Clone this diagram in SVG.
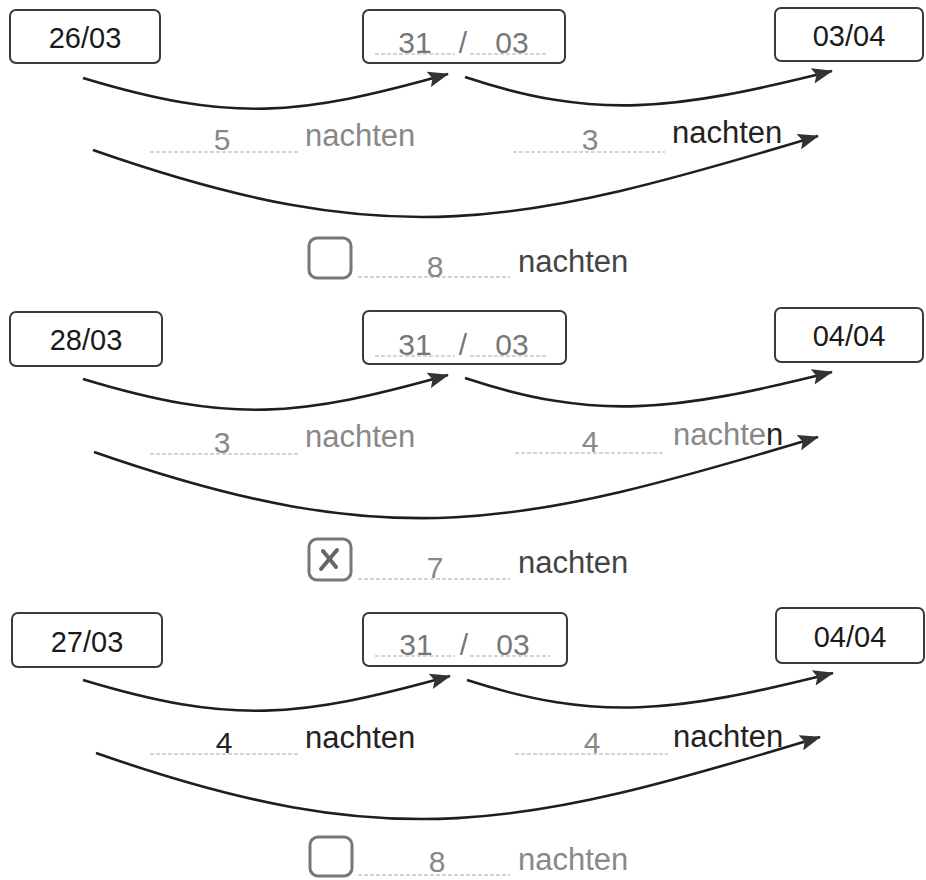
<svg xmlns="http://www.w3.org/2000/svg" width="926" height="880" viewBox="0 0 926 880">
<style>
text{font-family:"Liberation Sans",Arial,sans-serif;}
.box{fill:#fff;stroke:#3a3a3a;stroke-width:2;}
.date{font-size:29px;fill:#1a1a1a;text-anchor:middle;}
.hw{font-size:30px;fill:#777;text-anchor:middle;}
.num{font-size:30px;fill:#888;text-anchor:middle;}
.numd{font-size:30px;fill:#222;text-anchor:middle;}
.w{font-size:31px;fill:#888;}
.wd{font-size:31px;fill:#222;}
.wm{font-size:31px;fill:#444;}
.dot{stroke:#aaa;stroke-width:1.2;stroke-dasharray:4 2;fill:none;}
.arr{fill:none;stroke:#1e1e1e;stroke-width:2.6;marker-end:url(#ah);}
.cb{fill:none;stroke:#777;stroke-width:3;}
</style>
<defs>
<marker id="ah" markerUnits="userSpaceOnUse" markerWidth="22" markerHeight="16" refX="20" refY="8" orient="auto">
<path d="M0,0 L21,8 L0,16 L4,8 Z" fill="#333"/>
</marker>
</defs>

<g id="connectors">
<g id="row1-arrows">
<path class="arr" d="M83,78 C232,123 298,116 448,74"/>
<path class="arr" d="M465,77 C595,120 672,111 832,71"/>
<path class="arr" d="M93,150 C393,255 518,226 818,136"/>
</g>
<g id="row2-arrows" transform="translate(0,301)">
<path class="arr" d="M83,78 C232,123 298,116 448,74"/>
<path class="arr" d="M465,77 C595,120 672,111 832,71"/>
<path class="arr" d="M94,151 C393,255 518,226 818,136"/>
</g>
<g id="row3-arrows" transform="translate(0,602)">
<path class="arr" d="M83,78 C232,123 298,116 450,74"/>
<path class="arr" d="M467,78 C597,120 674,111 833,71"/>
<path class="arr" d="M96,151 C393,255 520,226 820,135"/>
</g>
</g>

<!-- Row 1 -->
<g id="r1-start">
<rect class="box" x="10" y="10" width="150" height="53" rx="6"/>
<text class="date" x="85" y="48">26/03</text>
</g>
<g id="r1-mid">
<rect class="box" x="363" y="10" width="202" height="53" rx="6"/>
<line class="dot" x1="375" y1="54" x2="455" y2="54"/>
<line class="dot" x1="470" y1="54" x2="548" y2="54"/>
<text class="hw" x="415" y="53">31</text>
<text class="hw" x="463" y="53">/</text>
<text class="hw" x="512" y="53">03</text>
</g>
<g id="r1-end">
<rect class="box" x="775" y="8" width="148" height="53" rx="6"/>
<text class="date" x="849" y="46">03/04</text>
</g>
<g id="r1-label1">
<line class="dot" x1="150" y1="152" x2="300" y2="152"/>
<text class="num" x="222" y="150">5</text>
<text class="w" x="305" y="146">nachten</text>
</g>
<g id="r1-label2">
<line class="dot" x1="513" y1="152" x2="665" y2="152"/>
<text class="num" x="590" y="150">3</text>
<text class="wd" x="672" y="143">nachten</text>
</g>
<g id="r1-total">
<rect class="cb" x="309" y="238" width="42" height="40" rx="8"/>
<line class="dot" x1="358" y1="277" x2="510" y2="277"/>
<text class="num" x="435" y="277">8</text>
<text class="wm" x="518" y="272">nachten</text>
</g>

<!-- Row 2 -->
<g id="r2-start">
<rect class="box" x="10" y="312" width="152" height="54" rx="6"/>
<text class="date" x="86" y="350">28/03</text>
</g>
<g id="r2-mid">
<rect class="box" x="363" y="311" width="203" height="53" rx="6"/>
<line class="dot" x1="375" y1="356" x2="455" y2="356"/>
<line class="dot" x1="470" y1="356" x2="548" y2="356"/>
<text class="hw" x="415" y="355">31</text>
<text class="hw" x="463" y="355">/</text>
<text class="hw" x="512" y="355">03</text>
</g>
<g id="r2-end">
<rect class="box" x="775" y="308" width="148" height="54" rx="6"/>
<text class="date" x="849" y="346">04/04</text>
</g>
<g id="r2-label1">
<line class="dot" x1="150" y1="454" x2="298" y2="454"/>
<text class="num" x="222" y="453">3</text>
<text class="w" x="305" y="447">nachten</text>
</g>
<g id="r2-label2">
<line class="dot" x1="515" y1="453" x2="665" y2="453"/>
<text class="num" x="590" y="452">4</text>
<text class="w" x="673" y="445">nachte<tspan fill="#222">n</tspan></text>
</g>
<g id="r2-total">
<rect class="cb" x="309" y="539" width="42" height="41" rx="8"/>
<line x1="321" y1="569" x2="337" y2="550" stroke="#666" stroke-width="4" stroke-linecap="round"/>
<line x1="323" y1="551" x2="336" y2="567" stroke="#666" stroke-width="4" stroke-linecap="round"/>
<line class="dot" x1="358" y1="579" x2="510" y2="579"/>
<text class="num" x="435" y="578">7</text>
<text class="wm" x="518" y="573">nachten</text>
</g>

<!-- Row 3 -->
<g id="r3-start">
<rect class="box" x="12" y="613" width="150" height="54" rx="6"/>
<text class="date" x="87" y="652">27/03</text>
</g>
<g id="r3-mid">
<rect class="box" x="363" y="613" width="204" height="53" rx="6"/>
<line class="dot" x1="375" y1="656" x2="455" y2="656"/>
<line class="dot" x1="470" y1="656" x2="550" y2="656"/>
<text class="hw" x="416" y="655">31</text>
<text class="hw" x="464" y="655">/</text>
<text class="hw" x="513" y="655">03</text>
</g>
<g id="r3-end">
<rect class="box" x="776" y="608" width="148" height="55" rx="6"/>
<text class="date" x="850" y="647">04/04</text>
</g>
<g id="r3-label1">
<line class="dot" x1="150" y1="754" x2="300" y2="754"/>
<text class="numd" x="224" y="753">4</text>
<text class="wd" x="305" y="748">nachten</text>
</g>
<g id="r3-label2">
<line class="dot" x1="515" y1="754" x2="668" y2="754"/>
<text class="num" x="592" y="753">4</text>
<text class="wd" x="673" y="747">nachten</text>
</g>
<g id="r3-total">
<rect class="cb" x="310" y="837" width="42" height="39" rx="8"/>
<line class="dot" x1="358" y1="875" x2="510" y2="875"/>
<text class="num" x="437" y="872" font-size="29">8</text>
<text class="w" x="518" y="870">nachten</text>
</g>
</svg>
